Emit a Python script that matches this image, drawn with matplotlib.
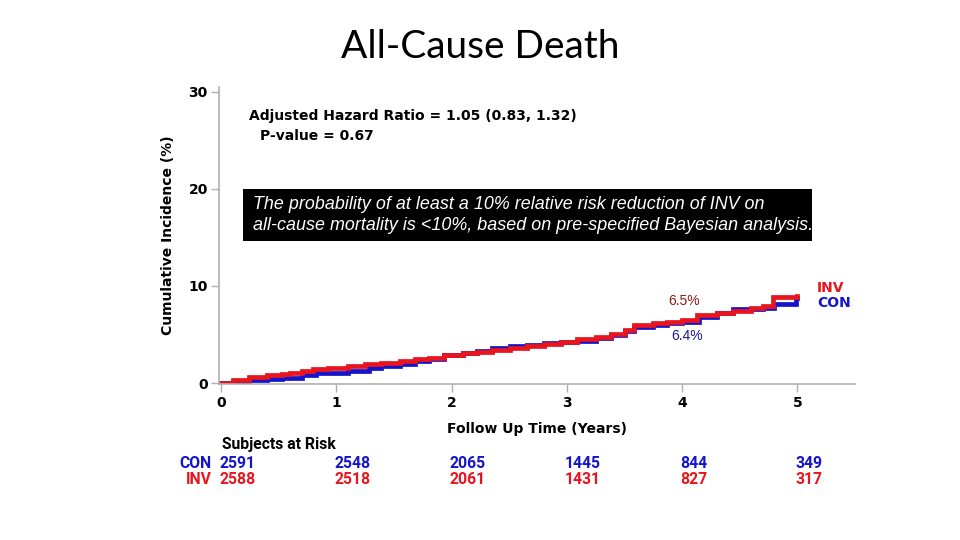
import matplotlib
matplotlib.use("Agg")
import matplotlib.pyplot as plt
from matplotlib.patches import Rectangle

# ---- data ----
con_t = [0, 0.1, 0.24, 0.4, 0.53, 0.7, 0.82, 0.99, 1.1, 1.28, 1.39, 1.55, 1.68, 1.8, 1.93,
         2.1, 2.22, 2.35, 2.51, 2.65, 2.8, 2.95, 3.09, 3.25, 3.38, 3.5, 3.58, 3.75, 3.87,
         4.0, 4.15, 4.3, 4.44, 4.6, 4.7, 4.8, 4.99, 5.0]
con_v = [0, 0.15, 0.3, 0.45, 0.55, 0.8, 1.0, 1.07, 1.26, 1.53, 1.72, 2.0, 2.28, 2.5, 2.9,
         3.1, 3.3, 3.6, 3.8, 3.95, 4.1, 4.2, 4.35, 4.6, 4.9, 5.4, 5.8, 6.0, 6.2,
         6.3, 6.77, 7.2, 7.6, 7.65, 7.7, 8.1, 8.8, 8.8]
inv_t = [0, 0.1, 0.24, 0.4, 0.53, 0.6, 0.7, 0.8, 0.93, 1.1, 1.25, 1.39, 1.55, 1.68, 1.8, 1.93,
         2.1, 2.22, 2.35, 2.51, 2.65, 2.8, 2.95, 3.09, 3.25, 3.38, 3.5, 3.58, 3.75, 3.87,
         4.0, 4.13, 4.3, 4.44, 4.6, 4.7, 4.79, 5.0]
inv_v = [0, 0.3, 0.65, 0.8, 0.9, 1.0, 1.24, 1.4, 1.58, 1.8, 1.95, 2.1, 2.25, 2.45, 2.6, 2.9,
         3.05, 3.2, 3.45, 3.63, 3.8, 4.0, 4.2, 4.5, 4.75, 5.0, 5.5, 6.0, 6.2, 6.3,
         6.5, 7.0, 7.2, 7.45, 7.7, 7.9, 8.9, 9.0]

risk_years = [0, 1, 2, 3, 4, 5]
con_risk = [2591, 2548, 2065, 1445, 844, 349]
inv_risk = [2588, 2518, 2061, 1431, 827, 317]

x_ticks = [0, 1, 2, 3, 4, 5]
y_ticks = [0, 10, 20, 30]

BLUE = "#1414CC"
RED = "#E8141E"
DRED = "#8B1A1A"
DBLUE = "#1A1A8B"
GRAY = "#B0B0B0"

fig = plt.figure(figsize=(9.6, 5.4), dpi=100)
fig.patch.set_facecolor("white")

fig.text(0.5, 0.913, "All-Cause Death", ha="center", va="center", fontsize=28,
         family=["Lato", "DejaVu Sans"], color="black")

ax = fig.add_axes([0.2281, 0.2889, 0.6625, 0.55])
ax.plot(con_t, con_v, drawstyle="steps-post", color=BLUE, lw=3.4, solid_joinstyle="miter")
ax.plot(inv_t, inv_v, drawstyle="steps-post", color=RED, lw=3.4, solid_joinstyle="miter")

ax.set_xlim(-0.02, 5.5)
ax.set_ylim(-0.1, 30.5)
ax.set_xticks(x_ticks)
ax.set_yticks(y_ticks)
ax.set_xticklabels([str(v) for v in x_ticks], fontweight="bold", fontsize=10)
ax.set_yticklabels([str(v) for v in y_ticks], fontweight="bold", fontsize=10)
ax.tick_params(axis="both", colors=GRAY, labelcolor="black", length=6, width=1)
ax.tick_params(axis="x", pad=3)
ax.tick_params(axis="y", pad=2)
for s in ["top", "right"]:
    ax.spines[s].set_visible(False)
for s in ["left", "bottom"]:
    ax.spines[s].set_color(GRAY)
    ax.spines[s].set_linewidth(1.2)

ax.set_xlabel("Follow Up Time (Years)", fontweight="bold", fontsize=10, labelpad=8)
ax.set_ylabel("Cumulative Incidence (%)", fontweight="bold", fontsize=10, labelpad=10)

ax.text(0.24, 27.5, "Adjusted Hazard Ratio = 1.05 (0.83, 1.32)", fontweight="bold",
        fontsize=10, ha="left", va="center")
ax.text(0.34, 25.4, "P-value = 0.67", fontweight="bold", fontsize=10, ha="left", va="center")

ax.text(5.17, 9.8, "INV", color=RED, fontweight="bold", fontsize=10, ha="left", va="center")
ax.text(5.17, 8.2, "CON", color=BLUE, fontweight="bold", fontsize=10, ha="left", va="center")

ax.text(4.02, 8.5, "6.5%", color=DRED, fontsize=10, ha="center", va="center",
        family=["Liberation Sans", "DejaVu Sans"])
ax.text(4.04, 4.8, "6.4%", color=DBLUE, fontsize=10, ha="center", va="center",
        family=["Liberation Sans", "DejaVu Sans"])

# black box with white italic text
fig.patches.append(Rectangle((243 / 960, 1 - 241 / 540), (812 - 243) / 960, 52 / 540,
                             transform=fig.transFigure, facecolor="black", edgecolor="none"))
fig.text(253 / 960, 1 - 215 / 540,
         "The probability of at least a 10% relative risk reduction of INV on\n"
         "all-cause mortality is <10%, based on pre-specified Bayesian analysis.",
         color="white", fontsize=12.9, style="italic", ha="left", va="center",
         family=["Liberation Sans", "DejaVu Sans"], linespacing=1.32)

# risk table
cond = dict(fontweight="bold", fontsize=11.3, family=["Roboto", "DejaVu Sans"])
fig.text(222 / 960, 1 - 445 / 540, "Subjects at Risk", ha="left", va="center", **cond)
y_con = 1 - 463 / 540
y_inv = 1 - 479 / 540
fig.text(212 / 960, y_con, "CON", color=BLUE, ha="right", va="center", **cond)
fig.text(212 / 960, y_inv, "INV", color=RED, ha="right", va="center", **cond)
for yr, c, i in zip(risk_years, con_risk, inv_risk):
    xf = fig.transFigure.inverted().transform(ax.transData.transform((yr, 0)))[0] - 2 / 960
    fig.text(xf, y_con, str(c), color=BLUE, ha="left", va="center", **cond)
    fig.text(xf, y_inv, str(i), color=RED, ha="left", va="center", **cond)

fig.savefig("out.png", dpi=100)
